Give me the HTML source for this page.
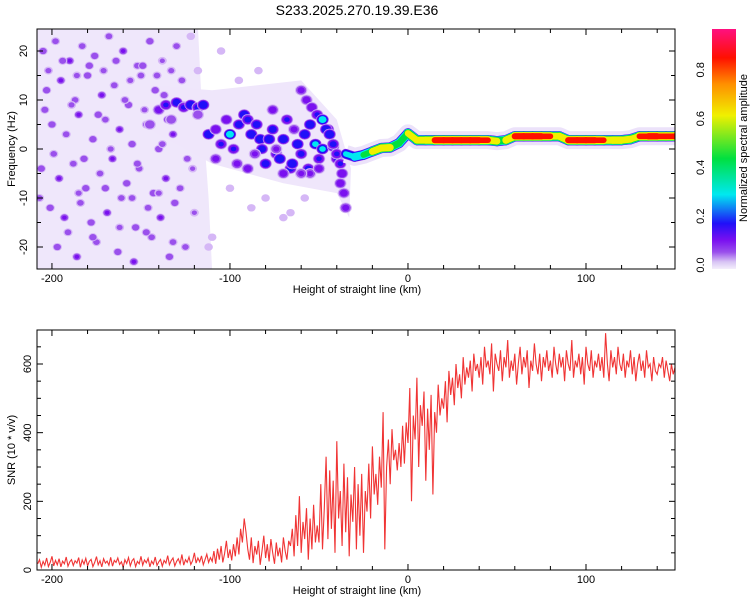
<!DOCTYPE html>
<html><head><meta charset="utf-8"><style>
body{margin:0;background:#fff;}
svg{display:block;font-family:"Liberation Sans",sans-serif;}
</style></head><body>
<svg id="chart" width="750" height="600" viewBox="0 0 750 600">
<defs>
<clipPath id="clipTop"><rect x="37" y="29" width="638" height="240"/></clipPath>
<clipPath id="clipBot"><rect x="37" y="330" width="638" height="240"/></clipPath>
<linearGradient id="cbar" x1="0" y1="1" x2="0" y2="0">
<stop offset="0" stop-color="#f4eefb"/><stop offset="0.03" stop-color="#d8c4f4"/>
<stop offset="0.07" stop-color="#9a50ec"/><stop offset="0.12" stop-color="#7a10f0"/>
<stop offset="0.19" stop-color="#2010f8"/><stop offset="0.31" stop-color="#00e8f0"/>
<stop offset="0.46" stop-color="#00e040"/><stop offset="0.64" stop-color="#f0f000"/>
<stop offset="0.77" stop-color="#ff9000"/><stop offset="0.88" stop-color="#ff1000"/>
<stop offset="1" stop-color="#ff1080"/>
</linearGradient>
</defs>
<text x="357" y="15" font-size="14" text-anchor="middle">S233.2025.270.19.39.E36</text>
<g id="heat" clip-path="url(#clipTop)"></g>
<g id="snr" clip-path="url(#clipBot)"></g>
<g id="axes"></g>
<rect x="712" y="29" width="24" height="240" fill="url(#cbar)"/>
<text transform="translate(747,148) rotate(-90)" font-size="11" text-anchor="middle">Normalized spectral amplitude</text>
</svg>
<script>
// ---- data ----
const snrStart = -208, snrStep = 1;
const snrValues = [
18,30,8,25,14,35,10,22,40,12,
28,15,33,9,26,18,38,11,24,30,
13,27,20,36,8,29,17,34,12,25,
31,10,22,39,15,27,9,33,20,26,
14,37,11,28,22,35,16,24,8,30,
19,36,12,27,33,10,25,18,40,14,
29,21,34,9,26,17,38,13,24,31,
11,28,20,42,15,27,35,12,25,33,
18,45,14,30,22,38,16,27,50,20,
35,24,41,15,30,46,22,36,
25,55,18,62,30,70,22,48,85,35,60,28,75,40,95,45,120,80,150,110,
60,30,95,20,70,45,85,15,55,100,35,75,25,90,50,18,80,40,65,22,95,55,30,85,70,
120,40,160,70,215,50,140,90,180,30,150,60,190,80,130,
80,250,60,180,330,90,290,120,260,50,375,150,230,70,310,110,270,40,220,140,300,60,250,100,280,50,230,170,
310,150,360,220,280,190,330,240,460,60,300,380,250,410,320,350,290,370,300,420,310,430,
370,530,200,450,380,560,300,480,420,520,260,470,350,510,220,460,400,540,450,500,
470,550,430,580,510,560,480,600,530,570,500,620,540,590,560,610,520,630,580,600,
560,620,540,650,590,610,570,660,520,630,
600,580,640,550,620,590,670,560,610,580,
630,540,600,650,570,620,590,640,530,610,
580,660,600,570,630,550,620,590,640,580,
610,560,650,600,570,630,590,620,550,640,
600,580,670,560,610,590,630,570,620,540,
650,600,580,640,560,610,590,630,580,620,
560,690,600,550,640,590,620,570,650,600,
580,630,560,610,590,640,570,620,550,600,
630,580,610,560,640,590,600,550,620,580,
570,600,590,620,560,610,580,550,600,570,
590];
const ridgeX = [-35,-30,-25,-20,-15,-10,-5,0,5,10,15,20,25,30,35,40,45,50,55,60,65,70,75,80,85,90,95,100,105,110,115,120,125,130,135,140,145,150,155];
const ridgeF = [-1,-1.6,-1.2,-0.5,0.2,0.3,1.2,3.2,1.8,1.8,1.8,1.8,1.8,1.8,1.8,1.8,1.8,1.6,1.8,2.6,2.6,2.6,2.6,2.6,2.6,1.8,1.8,1.8,1.8,1.8,1.8,1.8,2,2.6,2.6,2.6,2.6,2.6,2.6];
const ridgeA = [0.25,0.4,0.45,0.55,0.97,0.6,0.5,0.55,0.9,0.6,0.95,0.97,0.97,0.97,0.97,0.97,0.9,0.6,0.6,0.97,0.97,0.97,0.97,0.9,0.6,0.97,0.97,0.97,0.97,0.9,0.65,0.97,0.55,0.9,0.97,0.97,0.9,0.97,0.97];
const blobX = [-140,-136,-130,-126,-122,-118,-115,-112,-108,-105,-102,-100,-98,-95,-92,-90,-88,-85,-83,-82,-80,-78,-76,-74,-72,-70,-68,-66,-65,-62,-60,-58,-56,-55,-52,-50,-48,-45,-42,-40,
-60,-57,-54,-51,-48,-46,-44,-42,-40,-38,-37,-38,-36,-35,
-76,-90,-70,-55,-60,-108,-96,-86,-74,-64,-50,-145,-133,-118];
const blobF = [8,9,9.5,8.5,9,8.5,9,3,4,1,6,3,0,5,7,6,3,5,2,0,-3,2,4,-1,-2,2,6,-4,-3,1,-1,3,-4,5,1,-2,0,4,0.5,-2,
12,10,8.5,7,6,4,3,1,-1,-3,-5,-7,-9,-12,
8,-4,-5,-5,-5,-2,-3,-1,0,4,-4,5,6,7];
const blobA = [0.15,0.2,0.25,0.2,0.3,0.22,0.28,0.3,0.18,0.2,0.18,0.4,0.2,0.25,0.3,0.22,0.3,0.25,0.3,0.25,0.25,0.3,0.25,0.2,0.3,0.3,0.2,0.22,0.3,0.3,0.22,0.3,0.22,0.3,0.35,0.2,0.35,0.3,0.25,0.2,
0.14,0.15,0.18,0.2,0.4,0.3,0.3,0.22,0.2,0.2,0.18,0.16,0.15,0.14,
0.15,0.15,0.15,0.13,0.13,0.14,0.14,0.13,0.13,0.14,0.15,0.12,0.12,0.12];
const noiseX = [-205,-198,-190,-183,-176,-168,-160,-152,-145,-138,-130,-122,-203,-195,-187,-180,-172,-165,-157,-150,-142,-135,-127,-200,-192,-185,-177,-170,-162,-155,-147,-140,-132,-124,-206,-196,-188,-181,-173,-166,-158,-151,-143,-136,-128,-201,-193,-184,-178,-169,-161,-153,-146,-139,-131,-120,-197,-186,-175,-163,-154,-144,-134,-125,
-202,-194,-186,-179,-171,-164,-156,-149,-141,-133,-204,-189,-174,-159,-148,-137,-126,-199,-182,-167,-152,-138,-121,-191,-177,-162,-147,-132,-207,-185,-170,-155,-140,
-110,-100,-88,-80,-70,-95,-118,-112,-105,-84,-66,-58];
const noiseF = [20,22,18,21,19,23,20,17,22,18,21,23,12,14,10,15,11,13,9,15,12,6,14,5,3,7,2,6,4,1,5,0,3,-2,-4,-6,-3,-8,-5,-2,-7,-4,-9,-6,-8,-12,-14,-11,-15,-13,-10,-16,-12,-14,-11,-13,-20,-22,-19,-21,-23,-18,-22,-20,
16,18,15,17,16,18,14,17,15,16,8,9,7,10,8,11,9,-1,-2,0,-3,1,-4,-17,-18,-16,-17,-19,-10,-9,-8,-10,-9,
-18,-8,-12,-10,-14,14,16,-20,20,16,-13,-10];
const noiseA = [0.12,0.1,0.13,0.1,0.12,0.1,0.13,0.1,0.12,0.08,0.1,0.06,0.12,0.13,0.1,0.12,0.13,0.1,0.12,0.1,0.12,0.13,0.1,0.12,0.1,0.13,0.12,0.1,0.13,0.12,0.1,0.12,0.13,0.1,0.12,0.13,0.1,0.12,0.1,0.13,0.12,0.1,0.12,0.13,0.1,0.12,0.13,0.1,0.12,0.13,0.1,0.12,0.1,0.13,0.12,0.08,0.12,0.13,0.1,0.12,0.13,0.1,0.12,0.1,
0.09,0.11,0.09,0.12,0.09,0.11,0.09,0.12,0.1,0.09,0.11,0.09,0.12,0.1,0.09,0.11,0.08,0.1,0.12,0.09,0.11,0.1,0.08,0.1,0.12,0.09,0.11,0.1,0.1,0.09,0.12,0.1,0.09,
0.06,0.06,0.06,0.06,0.06,0.06,0.06,0.06,0.06,0.06,0.06,0.06];
const xTicks = [-200,-100,0,100];
const freqTicks = [20,10,0,-10,-20];
const snrTicks = [0,200,400,600];
const cbarTicks = [0.0,0.2,0.4,0.6,0.8];

// ---- scales ----
const X0=-208.4, X1=150;
const xs = v => 37 + (v - X0) * 638 / (X1 - X0);
const yf = f => 149 - f * 4.9;
const ysn = v => 570 - v * 240 / 699;
const NS='http://www.w3.org/2000/svg';
function mk(tag, parent, attrs){const e=document.createElementNS(NS,tag);for(const k in attrs)e.setAttribute(k,attrs[k]);parent.appendChild(e);return e;}
const stops=[[0,[236,224,250]],[0.07,[154,80,236]],[0.12,[122,16,240]],[0.19,[32,16,248]],[0.31,[0,232,240]],[0.46,[0,224,64]],[0.64,[240,240,0]],[0.77,[255,144,0]],[0.88,[255,16,0]],[1,[255,16,128]]];
function cmap(a){for(let i=1;i<stops.length;i++){if(a<=stops[i][0]){const [a0,c0]=stops[i-1],[a1,c1]=stops[i];const t=(a-a0)/(a1-a0);return 'rgb('+c0.map((c,j)=>Math.round(c+(c1[j]-c)*t)).join(',')+')';}}return 'rgb(255,16,128)';}
const levels=[0.02,0.07,0.12,0.19,0.31,0.46,0.64,0.88];

// ---- heatmap ----
const heat=document.getElementById('heat');
const bg=mk('polygon',heat,{points:[[xs(-209),yf(25)],[xs(-118),yf(25)],[xs(-116),yf(10)],[xs(-112),yf(-10)],[xs(-110),yf(-25)],[xs(-209),yf(-25)]].map(p=>p.join(',')).join(' '),fill:'#efe7fb'});


const haze=mk('polygon',heat,{points:[[xs(-145),yf(13)],[xs(-110),yf(12)],[xs(-60),yf(14)],[xs(-40),yf(6)],[xs(-32),yf(-4)],[xs(-33),yf(-14)],[xs(-40),yf(-9)],[xs(-70),yf(-7)],[xs(-110),yf(-3)],[xs(-145),yf(4)]].map(p=>p.join(',')).join(' '),fill:'#efe6fb'});


function blob(x,f,a,r,name){
  const g=mk('g',heat,{});
  
  
  levels.forEach(L=>{if(L<a){const rr=r*(0.35+1.0*Math.sqrt(1-L/a));mk('ellipse',g,{cx:xs(x),cy:yf(f),rx:rr*1.15,ry:rr,fill:cmap(L)});}});
}
noiseX.forEach((x,i)=>blob(x,noiseF[i],noiseA[i],3.2,'noise-blob'));
blobX.forEach((x,i)=>blob(x,blobF[i],blobA[i],4.2,'signal-blob'));
const halo=mk('polyline',heat,{points:ridgeX.map((x,i)=>xs(x)+','+yf(ridgeF[i])).join(' '),fill:'none',stroke:'#ece2fa','stroke-width':18,'stroke-linejoin':'round'});


levels.forEach(L=>{
  for(let i=0;i<ridgeX.length-1;i++){
    const a=(ridgeA[i]+ridgeA[i+1])/2;
    if(L<a){
      const w=2+8.5*Math.pow(1-L/a,0.3);
      const s=mk('line',heat,{x1:xs(ridgeX[i]),y1:yf(ridgeF[i]),x2:xs(ridgeX[i+1]),y2:yf(ridgeF[i+1]),stroke:cmap(L),'stroke-width':w,'stroke-linecap':'round'});
      
      
    }
  }
});

// ---- SNR line ----
const snr=document.getElementById('snr');
const pl=mk('polyline',snr,{points:snrValues.map((v,i)=>xs(snrStart+i*snrStep).toFixed(1)+','+ysn(v).toFixed(1)).join(' '),fill:'none',stroke:'#f03434','stroke-width':1.1});



// ---- axes ----
const ax=document.getElementById('axes');
function frame(y0,name){const r=mk('rect',ax,{x:37,y:y0,width:638,height:240,fill:'none',stroke:'#000','stroke-width':1});}
frame(29,'top-plot-frame');frame(330,'bottom-plot-frame');
function tick(x1,y1,x2,y2,c){mk('line',ax,{x1,y1,x2,y2,stroke:c||'#000','stroke-width':1});}
function label(x,y,t,name,rot){const e=mk('text',ax,{x,y,'font-size':11,'text-anchor':'middle'});if(rot)e.setAttribute('transform','rotate(-90 '+x+' '+y+')');e.textContent=t;}
[[29,269],[330,570]].forEach(([t,b])=>{
  for(let v=-200;v<=140;v+=20){const x=xs(v);const L=(v%100===0)?6:4;tick(x,t,x,t+L);tick(x,b,x,b-L);}
  xTicks.forEach(v=>label(xs(v),b+13,String(v),'x-tick-label'));
  label(357,b+24,'Height of straight line (km)','x-axis-title');
});
for(let f=-20;f<=20;f+=5){const y=yf(f);const L=(f%10===0)?6:4;tick(37,y,37+L,y);tick(675,y,675-L,y);}
freqTicks.forEach(f=>label(27,yf(f),String(f),'freq-tick-label',true));
label(15,149,'Frequency (Hz)','y-axis-title-top',true);
for(let v=0;v<=650;v+=50){const y=ysn(v);const L=(v%200===0)?6:4;tick(37,y,37+L,y);tick(675,y,675-L,y);}
snrTicks.forEach(v=>label(31,ysn(v),String(v),'snr-tick-label',true));
label(15,450,'SNR (10 * v/v)','y-axis-title-bottom',true);
cbarTicks.forEach(v=>{const y=265-v*244;label(704,y,v.toFixed(1),'colorbar-tick-label',true);});
</script>
</body></html>
